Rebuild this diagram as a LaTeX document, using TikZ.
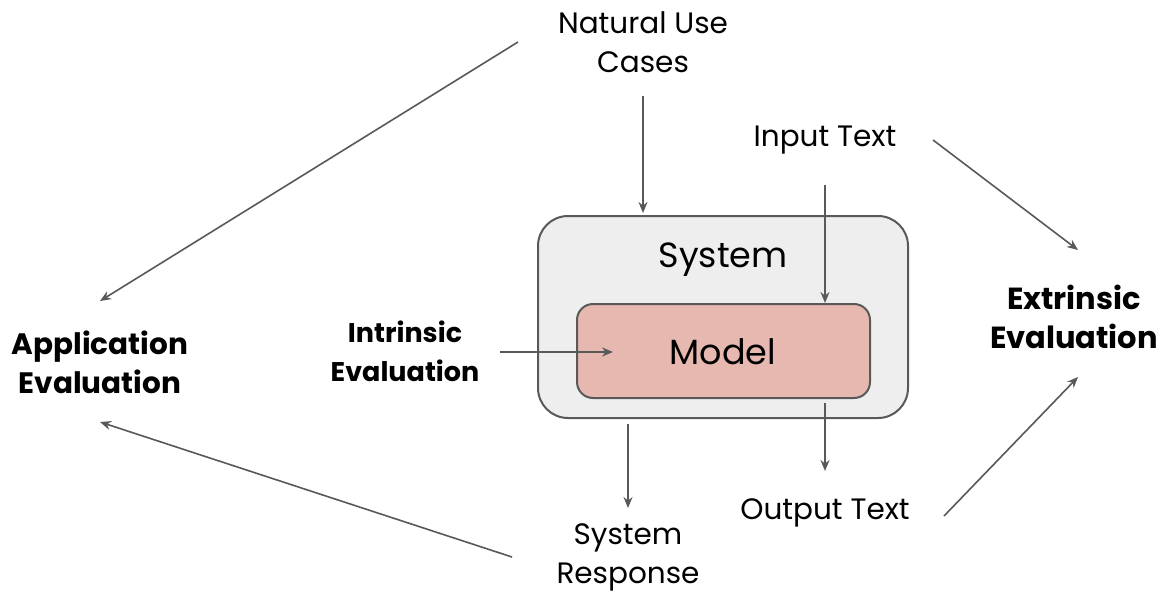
\documentclass[tikz,border=0pt]{standalone}
\usepackage{fontspec}
\setmainfont{Poppins}
\usetikzlibrary{arrows.meta}
\definecolor{linegray}{HTML}{595959}
\definecolor{boxgray}{HTML}{EEEEEE}
\definecolor{modelpink}{HTML}{E6B8AF}
\begin{document}
\begin{tikzpicture}[x=1pt,y=-1pt,
  arr/.style={draw=linegray,line width=1.6pt,-{Stealth[length=11pt,width=9pt]}},
  lab/.style={font=\fontsize{29.5}{39}\selectfont,align=center,inner sep=0pt},
  blab/.style={font=\fontsize{29.5}{39}\selectfont\bfseries,align=center,inner sep=0pt},
  sysbox/.style={draw=linegray,line width=2pt,fill=boxgray,rounded corners=30pt},
  modbox/.style={draw=linegray,line width=2pt,fill=modelpink,rounded corners=16pt}]
\useasboundingbox (0,0) rectangle (1161,594);
\fill[white] (0,0) rectangle (1161,594);
% boxes
\draw[sysbox] (538,216) rectangle (908,418);
\draw[modbox] (577,304) rectangle (870,398);
\node[font=\fontsize{35}{40}\selectfont,inner sep=0pt] (system) at (723,260) {System};
\node[font=\fontsize{35}{40}\selectfont,inner sep=0pt] (model) at (723,352) {Model};
% labels
\node[lab] (nuc) at (643,42) {Natural Use\\Cases};
\node[lab] (input) at (825,140) {Input Text};
\node[lab] (output) at (825,513) {Output Text};
\node[lab] (resp) at (628,557) {System\\Response};
\node[blab,font=\fontsize{27}{39}\selectfont\bfseries] (intr) at (405,351) {Intrinsic\\Evaluation};
\node[blab] (appl) at (100,362) {Application\\Evaluation};
\node[blab,font=\fontsize{30.5}{39}\selectfont\bfseries] (extr) at (1074,317) {Extrinsic\\Evaluation};
% endpoints
\coordinate (nucS) at (643,96);  \coordinate (sysT) at (643,213);
\coordinate (inS) at (825,185);  \coordinate (modT) at (825,303);
\coordinate (modB) at (825,403); \coordinate (outT) at (825,471);
\coordinate (sysB) at (628,424); \coordinate (respT) at (628,508);
\coordinate (intrE) at (500,352); \coordinate (modL) at (613,352);
\coordinate (nucW) at (518,42);  \coordinate (applN) at (100,301);
\coordinate (respW) at (512,557); \coordinate (applS) at (100,422);
\coordinate (inE) at (933,140);  \coordinate (extrN) at (1078,250);
\coordinate (outE) at (944,516); \coordinate (extrS) at (1078,377);
% arrows
\draw[arr] (nucS) -- (sysT);
\draw[arr] (inS) -- (modT);
\draw[arr] (modB) -- (outT);
\draw[arr] (sysB) -- (respT);
\draw[arr] (intrE) -- (modL);
\draw[arr] (nucW) -- (applN);
\draw[arr] (respW) -- (applS);
\draw[arr] (inE) -- (extrN);
\draw[arr] (outE) -- (extrS);
\end{tikzpicture}
\end{document}
